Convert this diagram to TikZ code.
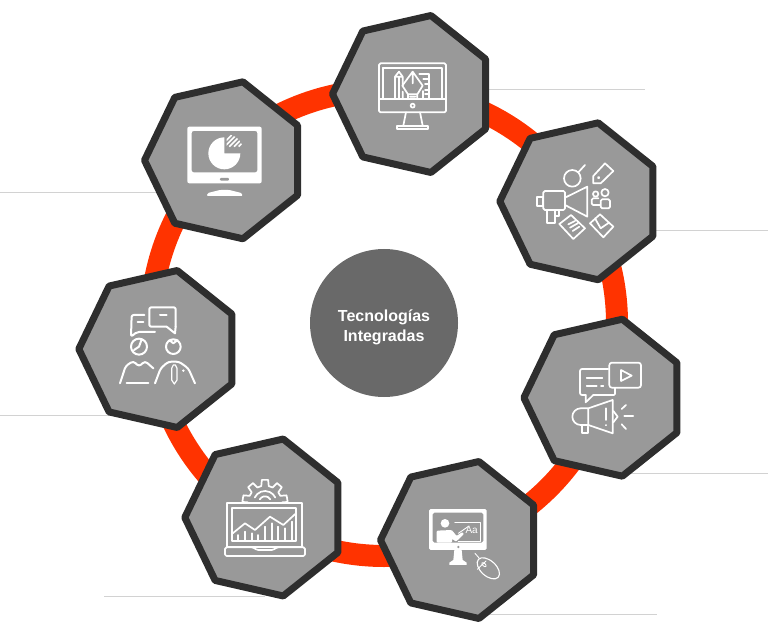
\documentclass[tikz,border=0pt]{standalone}
\usepackage{fontspec}
\setmainfont{Liberation Sans}
\usetikzlibrary{shapes.geometric,backgrounds}
\definecolor{ringred}{HTML}{FF3300}
\definecolor{hfill}{HTML}{999999}
\definecolor{hedge}{HTML}{2E2E2E}
\definecolor{hub}{HTML}{696969}
\definecolor{leadgray}{HTML}{D2D2D2}

\begin{document}
\begin{tikzpicture}[x=1pt, y=-1pt,
			h/.style={draw=hedge, fill=hfill, line width=7pt, line join=round, regular polygon, regular polygon sides=7, shape border rotate=90, minimum size=161pt, inner sep=0pt},
			leader/.style={draw=leadgray, line width=1pt},
			u/.style={x=.3333pt, y=-.3333pt},
			ic/.style={draw=white, line width=1.7pt, line join=round, line cap=round},
			icf/.style={draw=white, line width=1.7pt, line join=round, line cap=round, rounded corners=1.5pt}]
	\useasboundingbox (0,0) rectangle (768,644);
	\node[circle, fill=hub, minimum size=148pt, inner sep=0pt] (hubnode) at (384,323) {};
	\node[align=center, text=white, inner sep=0pt, yshift=-4pt, font=\fontsize{16}{20}\selectfont\bfseries] (hublabel) at (hubnode) {Tecnologías\\Integradas};
	\node[h] (plan) at (413,94) {};
	\node[h] (market) at (580.3,201.3) {};
	\node[h] (media) at (604.4,397.7) {};
	\node[h] (teach) at (461,540) {};
	\node[h] (data) at (265.3,517.5) {};
	\node[h] (team) at (159.3,349) {};
	\node[h] (report) at (225,160.3) {};
	\coordinate (lplan) at (645,89.5);
	\coordinate (lmarket) at (768,230.5);
	\coordinate (lmedia) at (768,473.5);
	\coordinate (lteach) at (657,614.5);
	\coordinate (ldata) at (104,596.5);
	\coordinate (lteam) at (0,415.5);
	\coordinate (lreport) at (0,192.5);
	\begin{scope}[on background layer]
		\draw[draw=ringred, line width=22pt] (hubnode.center) circle (233);
		\foreach \a in {plan, market, media, teach, data, team, report}
			\draw[leader] (l\a -| \a) -- (l\a);
	\end{scope}
	% plan
	\begin{scope}[shift={(370,55)}, u]
		\draw[icf] (27,25) rectangle (228,172);
		\draw[ic] (40,38) -- (215,38) -- (215,132) (40,132) -- (40,38) (27,132) -- (228,132);
		\draw[ic] (128,152) circle (6);
		\draw[ic] (108,172) -- (100,212) (150,172) -- (158,212);
		\draw[ic] (82,222) rectangle (175,212);
		\draw[ic] (75,132) -- (75,65) -- (87,50) -- (98,65) -- (98,92) (75,65) -- (98,65) (87,65) -- (87,132) (98,110) -- (98,132);
		\draw[ic] (128,50) -- (97,92) -- (114,118) -- (142,118) -- (158,92) -- cycle (128,50) -- (128,85) (114,118) -- (114,132) (142,118) -- (142,132) (120,125) -- (136,125);
		\draw[ic] (148,57) -- (178,57) -- (178,132) (160,132) -- (160,108) (160,72) -- (178,72) (165,88) -- (178,88) (165,104) -- (178,104) (165,118) -- (178,118);
	\end{scope}
	% market
	\begin{scope}[shift={(530,155)}, u]
		\draw[ic] (22,125) rectangle (38,152);
		\draw[icf] (40,108) rectangle (105,165);
		\draw[ic] (105,128) -- (172,95) -- (172,185) -- (105,150);
		\draw[ic] (52,165) -- (52,205) -- (75,205) -- (75,165) (75,182) -- (88,182) -- (88,165);
		\draw[ic] (127,70) circle (25) (145,52) -- (165,30);
		\draw[ic] (190,63) -- (190,85) -- (212,85) -- (250,48) -- (225,25) -- cycle;
		\draw[ic] (206,68) circle (2);
		\draw[ic] (225,113) circle (11) (197,117) circle (8);
		\draw[icf] (212,160) -- (212,133) -- (240,133) -- (240,160) -- cycle (212,150) -- (185,150) -- (185,130) -- (205,130);
		\draw[ic] (88,207) -- (123,180) -- (165,220) -- (130,252) -- cycle (115,208) -- (135,198) (120,218) -- (143,205) (128,228) -- (148,215);
		\draw[ic] (180,205) -- (210,178) -- (250,215) -- (220,247) -- cycle (195,190) -- (212,220) -- (237,203);
	\end{scope}
	% media
	\begin{scope}[shift={(565,355)}, u]
		\draw[ic, rounded corners=2pt] (130,42) -- (45,42) -- (45,120) -- (62,120);
		\draw[ic] (62,120) -- (62,142) -- (85,120);
		\draw[ic, rounded corners=1pt] (85,120) -- (150,120) -- (150,100);
		\draw[ic] (65,70) -- (112,70) (65,92) -- (95,92) (108,92) -- (115,92);
		\draw[ic, rounded corners=2.5pt] (133,23) rectangle (228,98);
		\draw[ic] (168,45) -- (168,78) -- (200,62) -- cycle;
		\draw[ic] (70,160) -- (143,135) -- (143,235) -- (70,210) -- (70,160) -- (47,160) arc (-90:-270:25) -- (70,210);
		\draw[ic] (50,210) -- (50,235) -- (70,235) -- (70,215);
		\draw[ic] (122,160) -- (122,195) (122,210) -- (122,211);
		\draw[ic] (145,168) -- (158,185) -- (145,202);
		\draw[ic] (170,162) -- (183,150) (178,183) -- (205,183) (170,208) -- (183,222);
	\end{scope}
	% teach
	\begin{scope}[shift={(420,500)}, u]
		\fill[white, even odd rule, rounded corners=1.5pt] (27,27) rectangle (200,150) (38,38) rectangle (190,128);
		\fill[hfill] (115,141) circle (4);
		\fill[white] (103,150) -- (100,180) -- (88,188) -- (88,195) -- (140,195) -- (140,188) -- (128,180) -- (125,150) -- cycle;
		\fill[white] (75,70) circle (13);
		\fill[white, rounded corners=1pt] (50,128) -- (50,92) -- (95,90) -- (110,108) -- (127,96) -- (132,102) -- (108,125) -- (96,116) -- (96,128) -- cycle;
		\draw[ic, line width=1.2pt] (105,68) -- (182,68) -- (182,125) -- (115,125);
		\draw[ic, line width=.9pt] (115,100) -- (147,78);
		\node[text=white, font=\fontsize{10}{10}\selectfont, inner sep=0pt] (aa) at (155,90) {Aa};
		\draw[ic, line width=.9pt] (165,160) -- (178,175);
		\draw[ic, line width=1.1pt, rotate around={-42:(205,205)}] (205,205) ellipse (40 and 23);
		\draw[ic, line width=.9pt] (172,208) -- (198,183);
		\draw[ic, line width=.9pt, rotate around={-42:(192,194)}] (192,194) ellipse (8 and 4);
	\end{scope}
	% data
	\begin{scope}[shift={(220,470)}, u]
		\draw[ic] (20,100) rectangle (245,232) (36,115) rectangle (228,212);
		\draw[icf] (15,232) -- (100,232) -- (110,240) -- (160,240) -- (170,232) -- (255,232) -- (255,258) -- (15,258) -- cycle;
		\draw[ic] (38,190) -- (75,160) -- (105,180) -- (150,140) -- (190,165) -- (228,130);
		\foreach \x/\y in {55/195, 75/185, 95/190, 115/195, 135/170, 155/160, 175/170, 195/175, 215/155}
			\draw[ic] (\x,210) -- (\x,\y);
		\begin{scope}[shift={(135,97)}]
			\draw[ic] (-180:68) -- (-180:52) \foreach \a in {-170,-130,-90,-50,-10} { -- ({\a-13}:50) -- ({\a-8}:68) -- ({\a+8}:68) -- ({\a+13}:50)} -- (0:52) -- (0:68);
			\draw[ic] (-155:34) arc (-155:-25:34) (-150:18) arc (-150:-30:18);
		\end{scope}
	\end{scope}
	% team
	\begin{scope}[shift={(115,300)}, u]
		\draw[ic, line width=2pt, rounded corners=2pt] (155,80) -- (103,80) -- (103,22) -- (182,22) -- (182,80);
		\draw[ic, line width=2pt] (155,80) -- (180,100) -- (182,80);
		\draw[ic, line width=2pt] (135,45) -- (155,45) (68,65) -- (85,65);
		\draw[ic, line width=2pt, rounded corners=2pt] (88,45) -- (50,45) -- (48,110) -- (66,96) -- (120,96);
		\draw[ic, line width=2pt] (72,140) circle (24) (72,140) -- (57,150) (72,140) -- (80,118);
		\draw[ic, line width=2pt] (175,140) circle (22) (163,120) -- (175,130) -- (188,120);
		\draw[ic, line width=2pt, rounded corners=3pt] (15,250) -- (32,198) -- (55,183) -- (72,200) -- (90,183) -- (115,205);
		\draw[ic, line width=2pt] (35,250) -- (100,250);
		\draw[ic, line width=2pt, rounded corners=3pt] (120,250) -- (137,205) -- (160,185) -- (192,185) -- (220,205) -- (240,250);
		\draw[ic, line width=1.2pt] (175,195) -- (170,205) -- (170,240) -- (178,252) -- (186,240) -- (186,205) -- (181,195) -- cycle;
		\fill[white] (205,212) circle (4);
	\end{scope}
	% report
	\begin{scope}[shift={(180,120)}, u]
		\fill[white, even odd rule, rounded corners=2pt] (22,20) rectangle (245,190) (35,33) rectangle (232,157);
		\fill[hfill, rounded corners=1pt] (120,174) rectangle (147,182);
		\fill[white, rounded corners=1pt] (80,228) -- (84,219) -- (120,210) -- (148,210) -- (184,219) -- (188,228) -- cycle;
		\fill[white] (133,100) -- (133,52) arc (-90:-360:48) -- cycle;
		\begin{scope}
			\clip (140,92) -- (140,43) arc (-90:0:49) -- cycle;
			\foreach \k in {0,14,...,112}
				\draw[white, line width=1.6pt] (120+\k,80) -- (170+\k,30);
		\end{scope}
	\end{scope}
\end{tikzpicture}
\end{document}
